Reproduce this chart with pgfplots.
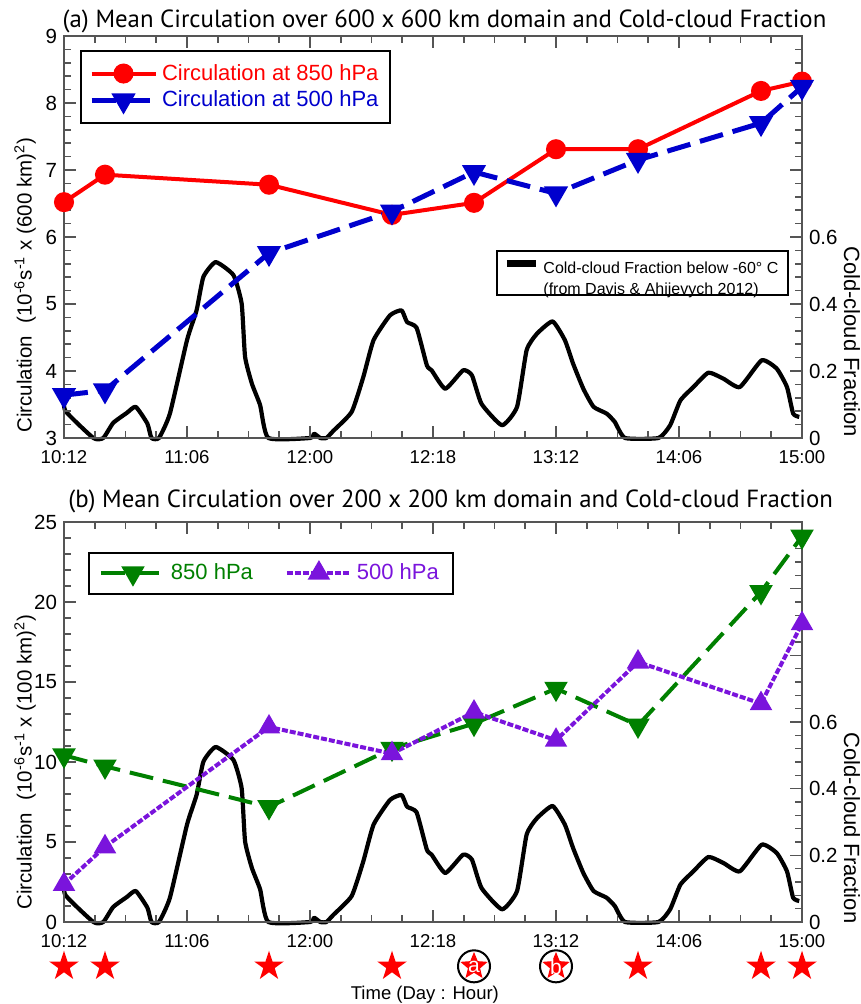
\documentclass[border=0pt]{standalone}
\usepackage{fontspec}
\setmainfont{Liberation Sans}
\newfontfamily\titlefont{PT Sans}
\usepackage{pgfplots}
\usepackage{pgfplotstable}
\pgfplotsset{compat=1.18}

\definecolor{axgray}{RGB}{85,85,85}
\definecolor{cred}{RGB}{255,0,0}
\definecolor{cblue}{RGB}{0,0,205}
\definecolor{cgreen}{RGB}{0,128,0}
\definecolor{cpurple}{RGB}{122,20,220}

% five-pointed star path, outer radius #1, inner radius #2
\newcommand\starpath[2]{%
  \pgfpathmoveto{\pgfpointpolar{90}{#1}}%
  \pgfpathlineto{\pgfpointpolar{126}{#2}}%
  \pgfpathlineto{\pgfpointpolar{162}{#1}}%
  \pgfpathlineto{\pgfpointpolar{198}{#2}}%
  \pgfpathlineto{\pgfpointpolar{234}{#1}}%
  \pgfpathlineto{\pgfpointpolar{270}{#2}}%
  \pgfpathlineto{\pgfpointpolar{306}{#1}}%
  \pgfpathlineto{\pgfpointpolar{342}{#2}}%
  \pgfpathlineto{\pgfpointpolar{18}{#1}}%
  \pgfpathlineto{\pgfpointpolar{54}{#2}}%
  \pgfpathclose}
\pgfdeclareplotmark{fstar}{%
  \starpath{\pgfplotmarksize}{0.382\pgfplotmarksize}\pgfusepathqfill}
\pgfdeclareplotmark{cstar}{%
  \pgfsetfillcolor{white}\pgfsetstrokecolor{black}\pgfsetlinewidth{1pt}%
  \pgfpathcircle{\pgfpointorigin}{\pgfplotmarksize}\pgfusepath{fill,stroke}%
  \pgfsetfillcolor{red}%
  \starpath{0.9\pgfplotmarksize}{0.4\pgfplotmarksize}\pgfusepath{fill}}

% circulation, time in hours after 10:12
\pgfplotstableread{
t   c850  c500
0   6.52  3.64
6   6.93  3.71
30  6.78  5.76
48  6.33  6.38
60  6.51  6.97
72  7.31  6.65
84  7.31  7.15
102 8.18  7.70
108 8.32  8.24
}\circA

\pgfplotstableread{
t   c850   c500
0   10.42  2.35
6   9.73   4.7
30  7.19   12.19
48  10.84  10.52
60  12.40  13.12
72  14.59  11.36
84  12.29  16.25
102 20.63  13.65
108 24.10  18.65
}\circB

% cold-cloud fraction below -60 C
\pgfplotstableread{
t     f
0     0.132
0.2   0.081
4.3   0.0
5.75  0.0
7.2   0.045
9.2   0.075
10.5  0.093
12.2  0.043
12.8  0.0
13.9  0.0
15.5  0.073
18.0  0.292
19.4  0.381
20.4  0.481
22.2  0.525
24.8  0.486
26.0  0.401
26.5  0.242
27.5  0.162
28.7  0.098
29.9  0.0
36.0  0.0
36.6  0.013
37.5  0.0
38.4  0.0
39.4  0.021
42.1  0.078
43.8  0.182
45.3  0.292
47.7  0.366
49.4  0.381
50.2  0.346
51.6  0.329
53.1  0.217
53.8  0.202
55.8  0.147
58.4  0.202
59.7  0.187
61.1  0.102
64.1  0.038
66.3  0.093
67.7  0.262
69.2  0.311
71.5  0.348
73.3  0.292
74.5  0.222
76.0  0.147
77.5  0.093
79.4  0.073
80.6  0.048
82.1  0.0
87.0  0.0
88.7  0.038
90.2  0.112
92.1  0.152
94.3  0.195
96.5  0.177
98.9  0.152
102.1 0.232
104.3 0.207
105.8 0.152
106.7 0.073
107.6 0.063
}\ccf

\pgfplotsset{
  base/.style={
    width=369pt, scale only axis,
    xmin=0, xmax=108,
    axis line style={axgray, line width=1pt},
    tick style={axgray, line width=0.8pt},
    major tick length=6pt, minor tick length=3.5pt,
    tick align=inside,
    clip=false,
    every axis title shift=0pt,
    /pgf/number format/assume math mode=true,
    y tick label style={font=\fontsize{10.25}{12}\selectfont},
  },
  leftax/.style={base,
    xtick={0,18,...,108},
    xticklabels={10:12,11:06,12:00,12:18,13:12,14:06,15:00},
    minor x tick num=3,
    minor y tick num=4,
    ytick pos=left,
    x tick label style={font=\fontsize{9.3}{11}\selectfont, yshift=-2.5pt},
    legend cell align=left,
    legend image code/.code={\draw[mark repeat=2,mark phase=2]
      plot coordinates {(0pt,0pt) (16pt,0pt) (32pt,0pt)};},
  },
  rightax/.style={base,
    axis x line=none, axis y line*=right,
    ymin=0, ymax=1.2,
    ytick={0,0.2,0.4,0.6,0.8,1.0,1.2},
    yticklabels={0,0.2,0.4,0.6,,,},
    minor y tick num=4,
  },
  ccfline/.style={black, line width=2.1pt, line join=round, smooth, tension=0.3},
}

\begin{document}
\begin{tikzpicture}
\useasboundingbox (-32pt,-283pt) rectangle (398pt,219pt);

% ---------- panel (a) ----------
\begin{axis}[rightax, height=201pt,
  legend style={at={(rel axis cs:0.586,0.468)}, anchor=north west,
    draw=black, line width=1pt, font=\fontsize{8}{10.5}\selectfont,
    inner xsep=3pt, inner ysep=2pt},
  legend image code/.code={\draw[line width=3.5pt] (0pt,4.5pt) -- (14.5pt,4.5pt);},
]
\addplot[ccfline] table[x=t,y=f]{\ccf};
\addlegendentry{\begin{tabular}{@{}l@{}}Cold-cloud Fraction below -60° C\\(from Davis \& Ahijevych 2012)\end{tabular}}
\node[rotate=-90, font=\fontsize{11}{13}\selectfont] at ([xshift=25pt]rel axis cs:1,0.24) {Cold-cloud Fraction};
\end{axis}

\begin{axis}[leftax, height=201pt,
  ymin=3, ymax=9, ytick={3,4,...,9},
  title={(a) Mean Circulation over 600 x 600 km domain and Cold-cloud Fraction},
  title style={at={(0.5156,1)}, anchor=base, yshift=4pt,
    font=\titlefont\fontsize{12.4}{14}\selectfont},
  legend style={at={(rel axis cs:0.0217,0.965)}, anchor=north west,
    draw=black, line width=1pt, font=\fontsize{11}{13}\selectfont,
    inner xsep=4pt, inner ysep=4.5pt},
]
\addplot[cred, line width=2pt, mark=*, mark size=4pt] table[x=t,y=c850]{\circA};
\addlegendentry{\textcolor{cred}{Circulation at 850 hPa}}
\addplot[cblue, line width=2.5pt, dash pattern=on 12pt off 5pt, mark=triangle*, mark size=4.5pt,
  mark options={rotate=180, solid}] table[x=t,y=c500]{\circA};
\addlegendentry{\textcolor{cblue}{Circulation at 500 hPa}}
\node[rotate=90, font=\fontsize{10.25}{12}\selectfont] at ([xshift=-19.5pt]rel axis cs:0,0.38)
  {Circulation\hspace{0.6em}(10\textsuperscript{-6}s\textsuperscript{-1} x (600 km)\textsuperscript{2})};
\end{axis}

% ---------- panel (b) ----------
\begin{axis}[rightax, height=200pt, at={(0,-242pt)}]
\addplot[ccfline] table[x=t,y=f]{\ccf};
\node[rotate=-90, font=\fontsize{11}{13}\selectfont] at ([xshift=25pt]rel axis cs:1,0.235) {Cold-cloud Fraction};
\end{axis}

\begin{axis}[leftax, height=200pt, at={(0,-242pt)},
  ymin=0, ymax=25, ytick={0,5,...,25},
  title={(b) Mean Circulation over 200 x 200 km domain and Cold-cloud Fraction},
  title style={at={(0.524,1)}, anchor=base, yshift=7.3pt,
    font=\titlefont\fontsize{12.4}{14}\selectfont},
  legend columns=2,
  legend style={at={(rel axis cs:0.0325,0.926)}, anchor=north west,
    draw=black, line width=1pt, font=\fontsize{11}{13}\selectfont,
    inner xsep=5pt, inner ysep=3.5pt,
    /tikz/every even column/.append style={column sep=14pt}},
]
\addplot[cgreen, line width=2pt, dash pattern=on 12pt off 5pt, mark=triangle*, mark size=4.8pt,
  mark options={rotate=180, solid}] table[x=t,y=c850]{\circB};
\addlegendentry{\textcolor{cgreen}{850 hPa}}
\addplot[cpurple, line width=2pt, dash pattern=on 3pt off 1pt, mark=triangle*, mark size=4.5pt,
  mark options={solid}] table[x=t,y=c500]{\circB};
\addlegendentry{\textcolor{cpurple}{500 hPa}}
% stars under the axis at the analysis times
\addplot[only marks, mark=fstar, mark size=7.8pt, mark options={fill=red}, forget plot]
  coordinates {(0,-2.77) (6,-2.77) (30,-2.77) (48,-2.77) (84,-2.77) (102,-2.77) (108,-2.77)};
\addplot[only marks, mark=cstar, mark size=8pt, forget plot,
  point meta=explicit symbolic, nodes near coords,
  nodes near coords style={anchor=center, text=white, inner sep=0pt, yshift=-0.5pt,
    font=\fontsize{10.5}{11}\selectfont}]
  coordinates {(60,-2.77) [a] (72,-2.77) [b]};
\node[rotate=90, font=\fontsize{10.25}{12}\selectfont] at ([xshift=-19.5pt]rel axis cs:0,0.40)
  {Circulation\hspace{0.6em}(10\textsuperscript{-6}s\textsuperscript{-1} x (100 km)\textsuperscript{2})};
\node[font=\fontsize{9.25}{11}\selectfont] at ([yshift=-36.5pt]rel axis cs:0.489,0) {Time (Day : Hour)};
\end{axis}
\end{tikzpicture}
\end{document}
